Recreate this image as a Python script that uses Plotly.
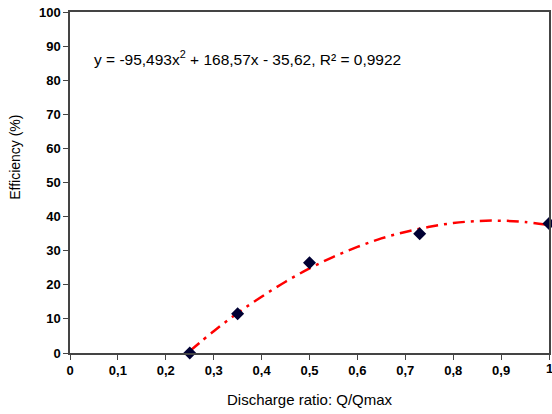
import plotly.graph_objects as go

# Measured points
x_pts = [0.25, 0.35, 0.5, 0.73, 1.0]
y_pts = [0.0, 11.5, 26.5, 35.0, 38.0]

# Trendline values
x_trend = [0.25, 0.30, 0.35, 0.40, 0.45, 0.50, 0.55, 0.60, 0.65, 0.70, 0.75, 0.80, 0.85, 0.90, 0.95, 1.00]
y_trend = [0.55, 6.4, 11.7, 16.5, 20.9, 24.8, 28.2, 31.1, 33.6, 35.5, 37.0, 38.1, 38.7, 38.8, 38.4, 37.5]

x_ticks = [0, 0.1, 0.2, 0.3, 0.4, 0.5, 0.6, 0.7, 0.8, 0.9, 1]
x_ticktext = ["0", "0,1", "0,2", "0,3", "0,4", "0,5", "0,6", "0,7", "0,8", "0,9", "1"]
y_ticks = [0, 10, 20, 30, 40, 50, 60, 70, 80, 90, 100]
y_ticktext = [str(v) for v in y_ticks]

equation = "y = -95,493x<sup>2</sup> + 168,57x - 35,62, R² = 0,9922"

fig = go.Figure()
fig.add_trace(go.Scatter(
    x=x_trend, y=y_trend, mode="lines",
    line=dict(color="#ff0000", width=2.5, dash="12px,6px,3px,6px", shape="spline"),
    showlegend=False, hoverinfo="skip", cliponaxis=False))
fig.add_trace(go.Scatter(
    x=x_pts, y=y_pts, mode="markers",
    marker=dict(symbol="diamond", size=10, color="#000033"),
    showlegend=False, cliponaxis=False))

font = "Liberation Sans, Arial, sans-serif"
tickfont = dict(family=font, size=13, color="black")
# last x tick label drawn as an annotation so the plot can reach the right edge
x_labels = ["<b>" + t + "</b>" for t in x_ticktext]
fig.update_layout(
    width=552, height=414,
    margin=dict(l=70, r=1, t=12, b=61),
    paper_bgcolor="white", plot_bgcolor="white",
    font=dict(family=font, size=13, color="black"),
    xaxis=dict(range=[0, 1], tickvals=x_ticks,
               ticktext=x_labels[:-1] + [""],
               showgrid=False, zeroline=False, showline=True, mirror=True,
               linecolor="#444444", linewidth=1.5, ticks="outside", ticklen=5,
               tickcolor="#444444", tickfont=tickfont, fixedrange=True),
    yaxis=dict(range=[0, 100], tickvals=y_ticks,
               ticktext=["<b>" + t + "</b>" for t in y_ticktext],
               showgrid=False, zeroline=False, showline=True, mirror=True,
               linecolor="#444444", linewidth=1.5, ticks="outside", ticklen=5,
               tickcolor="#444444", tickfont=tickfont, fixedrange=True),
    annotations=[
        dict(text=x_labels[-1], x=x_ticks[-1], y=0, xref="x", yref="paper",
             xanchor="center", yanchor="top", yshift=-6, showarrow=False,
             font=tickfont),
        dict(text=equation, x=0.045, y=0.865, xref="paper", yref="paper",
             xanchor="left", yanchor="middle", showarrow=False,
             font=dict(family=font, size=15.5, color="black")),
        dict(text="Efficiency (%)", x=-0.115, y=0.575, xref="paper", yref="paper",
             textangle=-90, xanchor="center", yanchor="middle", showarrow=False,
             font=dict(family=font, size=14, color="black")),
        dict(text="Discharge ratio: Q/Qmax", x=0.5, y=-0.135, xref="paper", yref="paper",
             xanchor="center", yanchor="middle", showarrow=False,
             font=dict(family=font, size=15, color="black")),
    ],
)
fig.write_html("out.html")
